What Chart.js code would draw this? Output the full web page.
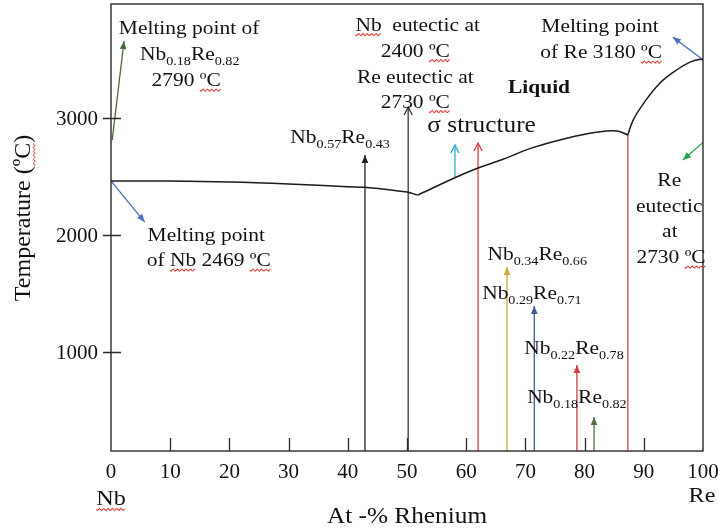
<!DOCTYPE html>
<html lang="en">
<head>
<meta charset="UTF-8">
<title>Nb-Re phase diagram</title>
<script src="https://cdn.jsdelivr.net/npm/chart.js"></script>
<style>
  html, body { margin: 0; padding: 0; background: #fff; }
</style>
</head>
<body>
<canvas id="phaseChart" width="718" height="531"></canvas>
<script>
// liquidus (at.% Re -> temperature)
const nbSideX = [0, 10, 20, 30, 40, 43, 50, 51.8];
const nbSideT = [2460, 2458, 2450, 2433, 2410, 2405, 2365, 2338];
const sigmaX = [51.8, 58, 62, 66, 71, 77, 82, 85.5, 87.3];
const sigmaT = [2338, 2485, 2570, 2640, 2740, 2825, 2875, 2886, 2852];
const reSideX = [87.3, 88.2, 90, 92.7, 95.6, 97.8, 99.5, 100];
const reSideT = [2852, 2980, 3125, 3295, 3410, 3475, 3500, 3495];

const xTicks = [0, 10, 20, 30, 40, 50, 60, 70, 80, 90, 100];
const yTicks = [1000, 2000, 3000];
const yMin = 151, yMax = 3972;

// vertical marker lines (composition, start temp, end temp)
const markX = [42.9, 50.2, 58.1, 62.0, 66.9, 71.5, 78.7, 81.6, 87.3];
const markFrom = [yMin, yMin, 2485, yMin, yMin, yMin, yMin, yMin, yMin];
const markTo = [2681, 3091, 2767, 2784, 1724, 1391, 886, 442, 2852];
const markColor = ['#222', '#333', '#2aa9d2', '#d94040', '#c9a93a', '#3c5a96', '#d63a3a', '#557046', '#d94a4a'];
const markHead = ['fill', 'open', 'open', 'open', 'fill', 'fill', 'fill', 'fill', 'none'];

// slanted pointers
const ptrFromX = [0.2, 0, 100, 100];
const ptrFromT = [2809, 2460, 3495, 2789];
const ptrToX = [2.2, 5.7, 94.9, 96.6];
const ptrToT = [3655, 2108, 3689, 2638];
const ptrColor = ['#4b6a3c', '#4a72c4', '#4a72c4', '#22a352'];

// text notes: _{..} = subscript, ~..~ = spell-check squiggle
const noteText = [
  'Melting point of', 'Nb_{0.18}Re_{0.82}', '2790 ~ºC~',
  '~Nb~  eutectic at', '2400 ~ºC~', 'Re eutectic at', '2730 ~ºC~',
  'Melting point', 'of Re 3180 ~ºC~',
  'Nb_{0.57}Re_{0.43}',
  'Re', 'eutectic', 'at', '2730 ~ºC~',
  'Melting point', 'of ~Nb~ 2469 ~ºC~',
  'Nb_{0.34}Re_{0.66}', 'Nb_{0.29}Re_{0.71}', 'Nb_{0.22}Re_{0.78}', 'Nb_{0.18}Re_{0.82}'
];
const noteX = [13.2, 13.3, 12.7, 51.8, 51.4, 51.4, 51.4, 82.6, 82.8, 38.7, 94.3, 94.3, 94.4, 94.6, 16.1, 16.5, 72.0, 71.1, 78.2, 78.7];
const noteT = [3775, 3549, 3326, 3801, 3579, 3356, 3143, 3792, 3566, 2840, 2472, 2250, 2037, 1814, 2006, 1788, 1840, 1506, 1040, 617];

const serif = '"Liberation Serif", "Times New Roman", serif';
const stretch = 1.1;

function toPoints(xs, ys) {
  return xs.map((x, i) => ({ x: x, y: ys[i] }));
}

function parseRich(str) {
  const segs = [];
  let buf = '', wavy = false, i = 0;
  const push = (sub) => { if (buf) segs.push({ text: buf, sub: sub, wavy: wavy }); buf = ''; };
  while (i < str.length) {
    if (str.startsWith('_{', i)) {
      push(false);
      const end = str.indexOf('}', i);
      buf = str.slice(i + 2, end);
      push(true);
      i = end + 1;
    } else if (str[i] === '~') {
      push(false);
      wavy = !wavy;
      i++;
    } else {
      buf += str[i++];
    }
  }
  push(false);
  return segs;
}

function squiggle(ctx, x0, x1, y) {
  ctx.save();
  ctx.strokeStyle = '#e04040';
  ctx.lineWidth = 1;
  ctx.beginPath();
  for (let x = x0; x <= x1; x += 1) {
    const yy = y + 1.1 * Math.sin((x - x0) * 1.6);
    if (x === x0) ctx.moveTo(x, yy); else ctx.lineTo(x, yy);
  }
  ctx.stroke();
  ctx.restore();
}

function drawRich(ctx, str, cx, cy, size, opt) {
  opt = opt || {};
  const segs = parseRich(str);
  const weight = opt.bold ? 'bold ' : '';
  const subSize = size * 0.66;
  ctx.save();
  ctx.translate(cx, cy);
  if (opt.rotate) ctx.rotate(opt.rotate);
  ctx.scale(opt.sx || 1, 1);
  ctx.fillStyle = '#111';
  ctx.textBaseline = 'alphabetic';
  ctx.textAlign = 'left';
  let total = 0;
  segs.forEach(s => {
    ctx.font = weight + (s.sub ? subSize : size) + 'px ' + serif;
    s.w = ctx.measureText(s.text).width;
    total += s.w;
  });
  let x = opt.align === 'right' ? -total : -total / 2;
  const base = size * 0.34;
  segs.forEach(s => {
    ctx.font = weight + (s.sub ? subSize : size) + 'px ' + serif;
    const by = s.sub ? base + size * 0.27 : base;
    ctx.fillText(s.text, x, by);
    if (s.wavy) squiggle(ctx, x, x + s.w, base + 4);
    x += s.w;
  });
  ctx.restore();
}

function arrowHead(ctx, x0, y0, x1, y1, type, color) {
  if (type === 'none') return;
  const ang = Math.atan2(y1 - y0, x1 - x0);
  const len = 8;
  const half = type === 'open' ? 4 : 3.3;
  const bx = x1 - len * Math.cos(ang), by = y1 - len * Math.sin(ang);
  const px = -Math.sin(ang) * half, py = Math.cos(ang) * half;
  ctx.save();
  ctx.strokeStyle = color;
  ctx.fillStyle = color;
  ctx.lineWidth = 1.3;
  ctx.beginPath();
  ctx.moveTo(bx + px, by + py);
  ctx.lineTo(x1, y1);
  ctx.lineTo(bx - px, by - py);
  if (type === 'fill') { ctx.closePath(); ctx.fill(); } else { ctx.stroke(); }
  ctx.restore();
}

const decor = {
  id: 'decor',
  afterDraw(chart) {
    const ctx = chart.ctx;
    const xs = chart.scales.x, ys = chart.scales.y;
    const a = chart.chartArea;

    // frame
    ctx.save();
    ctx.strokeStyle = '#2a2a2a';
    ctx.lineWidth = 1.4;
    ctx.strokeRect(a.left, a.top, a.right - a.left, a.bottom - a.top);

    // ticks
    ctx.lineWidth = 1.3;
    ctx.beginPath();
    xTicks.slice(1, -1).forEach(v => {
      const px = Math.round(xs.getPixelForValue(v)) + 0.5;
      ctx.moveTo(px, a.bottom);
      ctx.lineTo(px, a.bottom - 13);
    });
    yTicks.forEach(v => {
      const py = Math.round(ys.getPixelForValue(v)) + 0.5;
      ctx.moveTo(a.left - 8, py);
      ctx.lineTo(a.left + 10, py);
    });
    ctx.stroke();
    ctx.restore();

    // tick labels
    xTicks.forEach(v => drawRich(ctx, String(v), xs.getPixelForValue(v), a.bottom + 20, 21));
    yTicks.forEach(v => drawRich(ctx, String(v), a.left - 13, ys.getPixelForValue(v), 21, { align: 'right' }));

    // axis titles
    drawRich(ctx, 'Temperature (~ºC~)', 22, 218, 24, { rotate: -Math.PI / 2 });
    drawRich(ctx, 'At -% Rhenium', (a.left + a.right) / 2, 515, 23, { sx: stretch });
    drawRich(ctx, '~Nb~', xs.getPixelForValue(0), 498, 22, { sx: stretch });
    drawRich(ctx, 'Re', xs.getPixelForValue(100) - 1, 495, 22, { sx: stretch });

    // arrowheads
    markX.forEach((x, i) => {
      const px = xs.getPixelForValue(x);
      arrowHead(ctx, px, ys.getPixelForValue(markFrom[i]), px, ys.getPixelForValue(markTo[i]), markHead[i], markColor[i]);
    });
    ptrToX.forEach((x, i) => {
      arrowHead(ctx, xs.getPixelForValue(ptrFromX[i]), ys.getPixelForValue(ptrFromT[i]),
        xs.getPixelForValue(x), ys.getPixelForValue(ptrToT[i]), 'fill', ptrColor[i]);
    });

    // notes
    noteText.forEach((t, i) => drawRich(ctx, t, xs.getPixelForValue(noteX[i]), ys.getPixelForValue(noteT[i]), 19.5, { sx: stretch }));
    drawRich(ctx, 'Liquid', xs.getPixelForValue(72.3), ys.getPixelForValue(3271), 19.5, { sx: stretch, bold: true });
    drawRich(ctx, 'σ structure', xs.getPixelForValue(62.6), ys.getPixelForValue(2944), 23, { sx: stretch });
  }
};

const datasets = [];
[[nbSideX, nbSideT], [sigmaX, sigmaT], [reSideX, reSideT]].forEach(([xs, ts]) => {
  datasets.push({
    data: toPoints(xs, ts),
    borderColor: '#1a1a1a',
    borderWidth: 1.5,
    tension: 0.4,
    pointRadius: 0
  });
});
markX.forEach((x, i) => {
  datasets.push({
    data: [{ x: x, y: markFrom[i] }, { x: x, y: markTo[i] }],
    borderColor: markColor[i],
    borderWidth: 1.3,
    pointRadius: 0
  });
});
ptrToX.forEach((x, i) => {
  datasets.push({
    data: [{ x: ptrFromX[i], y: ptrFromT[i] }, { x: x, y: ptrToT[i] }],
    borderColor: ptrColor[i],
    borderWidth: 1.3,
    pointRadius: 0
  });
});

new Chart(document.getElementById('phaseChart'), {
  type: 'line',
  data: { datasets: datasets },
  options: {
    responsive: false,
    animation: false,
    layout: { padding: { left: 111, right: 15, top: 4, bottom: 80 } },
    plugins: { legend: { display: false }, tooltip: { enabled: false } },
    scales: {
      x: { type: 'linear', min: 0, max: 100, display: false },
      y: { type: 'linear', min: yMin, max: yMax, display: false }
    }
  },
  plugins: [decor]
});
</script>
</body>
</html>
